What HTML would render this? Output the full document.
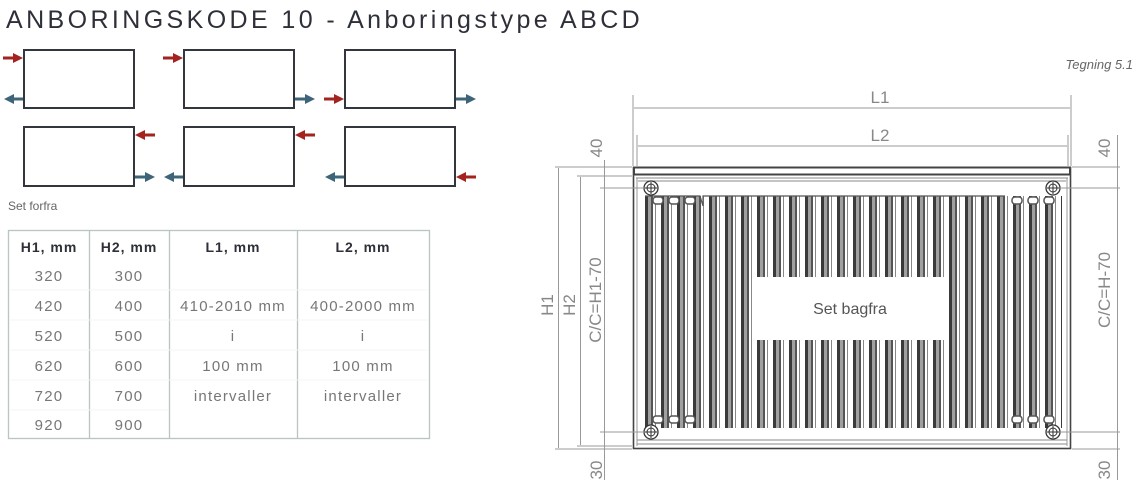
<!DOCTYPE html>
<html><head><meta charset="utf-8"><style>
body{margin:0;background:#fff;width:1137px;height:492px;overflow:hidden;font-family:"Liberation Sans",sans-serif}
</style></head><body>
<svg width="1137" height="492" viewBox="0 0 1137 492" xmlns="http://www.w3.org/2000/svg" font-family="Liberation Sans, sans-serif">
<defs>
<pattern id="fins" x="645" y="0" width="16" height="10" patternUnits="userSpaceOnUse">
<rect x="0" y="0" width="16" height="10" fill="#fff"/>
<rect x="0" y="0" width="3" height="10" fill="#3a3a3a"/>
<rect x="3" y="0" width="3" height="10" fill="#a0a0a0"/>
<rect x="6" y="0" width="2" height="10" fill="#555"/>
<rect x="10" y="0" width="1" height="10" fill="#888"/>
</pattern>
</defs>
<text x="6" y="28" font-size="25" fill="#2d3038" letter-spacing="3.4">ANBORINGSKODE 10 - Anboringstype ABCD</text>
<text x="1133" y="69" font-size="13" font-style="italic" fill="#666" text-anchor="end">Tegning 5.1</text>
<!-- boxes -->
<g fill="none" stroke="#33363d" stroke-width="2">
<rect x="24" y="50" width="110" height="58"/><rect x="184" y="50" width="110" height="58"/><rect x="345" y="50" width="110" height="58"/>
<rect x="24" y="127" width="110" height="59"/><rect x="184" y="127" width="110" height="59"/><rect x="345" y="127" width="110" height="59"/>
</g>
<g stroke-width="3">
<line x1="3" y1="58" x2="14" y2="58" stroke="#a3231f"/><path d="M13,53 L23,58 L13,63z" fill="#a3231f"/>
<line x1="163" y1="58" x2="174" y2="58" stroke="#a3231f"/><path d="M173,53 L183,58 L173,63z" fill="#a3231f"/>
<line x1="324" y1="99" x2="335" y2="99" stroke="#a3231f"/><path d="M334,94 L344,99 L334,104z" fill="#a3231f"/>
<line x1="155" y1="135" x2="145" y2="135" stroke="#a3231f"/><path d="M145,130 L135,135 L145,140z" fill="#a3231f"/>
<line x1="315" y1="135" x2="305" y2="135" stroke="#a3231f"/><path d="M305,130 L295,135 L305,140z" fill="#a3231f"/>
<line x1="476" y1="177" x2="466" y2="177" stroke="#a3231f"/><path d="M466,172 L456,177 L466,182z" fill="#a3231f"/>
<line x1="23" y1="99" x2="13" y2="99" stroke="#3d6479"/><path d="M14,94 L4,99 L14,104z" fill="#3d6479"/>
<line x1="295" y1="99" x2="305" y2="99" stroke="#3d6479"/><path d="M305,94 L315,99 L305,104z" fill="#3d6479"/>
<line x1="456" y1="99" x2="466" y2="99" stroke="#3d6479"/><path d="M466,94 L476,99 L466,104z" fill="#3d6479"/>
<line x1="135" y1="177" x2="145" y2="177" stroke="#3d6479"/><path d="M145,172 L155,177 L145,182z" fill="#3d6479"/>
<line x1="183" y1="177" x2="173" y2="177" stroke="#3d6479"/><path d="M174,172 L164,177 L174,182z" fill="#3d6479"/>
<line x1="344" y1="177" x2="334" y2="177" stroke="#3d6479"/><path d="M335,172 L325,177 L335,182z" fill="#3d6479"/>
</g>
<text x="8" y="210" font-size="12" fill="#666">Set forfra</text>
<!-- table -->
<g stroke="#b9c4c6" stroke-width="1.3" fill="none">
<rect x="8.5" y="230.5" width="421" height="208"/>
<line x1="89.5" y1="230" x2="89.5" y2="438"/><line x1="169.5" y1="230" x2="169.5" y2="438"/><line x1="297.5" y1="230" x2="297.5" y2="438"/>
</g>
<g stroke="#f4f5f5" stroke-width="1">
<line x1="9" y1="290" x2="429" y2="290"/><line x1="9" y1="320" x2="429" y2="320"/><line x1="9" y1="350" x2="429" y2="350"/><line x1="9" y1="380" x2="429" y2="380"/><line x1="9" y1="410" x2="169" y2="410"/>
</g>
<g font-size="14" font-weight="bold" fill="#2d3038" text-anchor="middle" letter-spacing="1">
<text x="49" y="252">H1, mm</text><text x="129" y="252">H2, mm</text><text x="233" y="252">L1, mm</text><text x="363" y="252">L2, mm</text>
</g>
<g font-size="15" fill="#777" text-anchor="middle" letter-spacing="1.2">
<text x="49" y="281">320</text><text x="129" y="281">300</text>
<text x="49" y="311">420</text><text x="129" y="311">400</text>
<text x="49" y="341">520</text><text x="129" y="341">500</text>
<text x="49" y="371">620</text><text x="129" y="371">600</text>
<text x="49" y="401">720</text><text x="129" y="401">700</text>
<text x="49" y="430">920</text><text x="129" y="430">900</text>
<text x="233" y="311">410-2010 mm</text><text x="363" y="311">400-2000 mm</text>
<text x="233" y="341">i</text><text x="363" y="341">i</text>
<text x="233" y="371">100 mm</text><text x="363" y="371">100 mm</text>
<text x="233" y="401">intervaller</text><text x="363" y="401">intervaller</text>
</g>
<!-- radiator -->
<rect x="645" y="196" width="417" height="232" fill="url(#fins)"/>
<rect x="645" y="190" width="417" height="6" fill="#fff"/>
<rect x="645" y="428" width="417" height="15" fill="#fff"/>
<g fill="#fff" stroke="#555" stroke-width="1.5">
<rect x="653" y="197" width="10" height="7" rx="3"/><rect x="669" y="197" width="10" height="7" rx="3"/><rect x="685" y="197" width="10" height="7" rx="3"/>
<rect x="1012" y="197" width="10" height="7" rx="3"/><rect x="1028" y="197" width="10" height="7" rx="3"/><rect x="1044" y="197" width="10" height="7" rx="3"/>
<rect x="653" y="416" width="10" height="7" rx="3"/><rect x="669" y="416" width="10" height="7" rx="3"/><rect x="685" y="416" width="10" height="7" rx="3"/>
<rect x="1012" y="416" width="10" height="7" rx="3"/><rect x="1028" y="416" width="10" height="7" rx="3"/><rect x="1044" y="416" width="10" height="7" rx="3"/>
</g>
<path d="M645,196 L700,196 L703,206 L703,196 L1005,196" fill="none" stroke="#555" stroke-width="1.2"/>
<rect x="752" y="277" width="196" height="63" fill="#fff"/>
<text x="850" y="314" font-size="16" fill="#555" text-anchor="middle">Set bagfra</text>
<g fill="none" stroke="#444">
<rect x="633.5" y="167.5" width="437" height="281" stroke-width="1.6"/>
<rect x="634" y="167.5" width="436" height="7" stroke-width="2"/>
<line x1="636" y1="178" x2="1068" y2="178" stroke="#888"/>
<line x1="638" y1="181" x2="1066" y2="181" stroke="#888"/>
<line x1="637" y1="440" x2="1067" y2="440" stroke="#888"/>
<line x1="637" y1="444" x2="1067" y2="444" stroke="#888"/>
<line x1="637" y1="178" x2="637" y2="446" stroke="#999"/>
<line x1="1067" y1="178" x2="1067" y2="446" stroke="#999"/>
</g>
<g fill="#fff" stroke="#333" stroke-width="1.3">
<circle cx="651" cy="188" r="7"/><circle cx="1053" cy="188" r="7"/><circle cx="651" cy="432" r="7"/><circle cx="1053" cy="432" r="7"/>
</g>
<g stroke="#333" stroke-width="1"><circle cx="651" cy="188" r="4" fill="none"/><circle cx="1053" cy="188" r="4" fill="none"/><circle cx="651" cy="432" r="4" fill="none"/><circle cx="1053" cy="432" r="4" fill="none"/>
<path d="M645,188h12M651,182v12M1047,188h12M1053,182v12M645,432h12M651,426v12M1047,432h12M1053,426v12"/></g>
<!-- dimensions -->
<g stroke="#999" stroke-width="1" fill="none">
<line x1="633" y1="95" x2="633" y2="166"/><line x1="1071" y1="95" x2="1071" y2="166"/>
<line x1="634" y1="108" x2="1070" y2="108"/>
<line x1="637" y1="135" x2="637" y2="166"/><line x1="1068" y1="135" x2="1068" y2="166"/>
<line x1="638" y1="146" x2="1067" y2="146"/>
<line x1="555" y1="167" x2="632" y2="167"/><line x1="555" y1="449" x2="632" y2="449"/>
<line x1="577" y1="176" x2="632" y2="176"/><line x1="577" y1="446" x2="632" y2="446"/>
<line x1="600" y1="188" x2="644" y2="188"/><line x1="600" y1="432" x2="644" y2="432"/>
<line x1="558.5" y1="168" x2="558.5" y2="448"/><line x1="580.5" y1="177" x2="580.5" y2="445"/>
<line x1="604.5" y1="160" x2="604.5" y2="196"/><line x1="604.5" y1="188" x2="604.5" y2="432"/><line x1="604.5" y1="425" x2="604.5" y2="480"/>
<line x1="1072" y1="167" x2="1120" y2="167"/><line x1="1072" y1="449" x2="1120" y2="449"/>
<line x1="1060" y1="188" x2="1120" y2="188"/><line x1="1060" y1="432" x2="1120" y2="432"/>
<line x1="1117.5" y1="135" x2="1117.5" y2="196"/><line x1="1117.5" y1="188" x2="1117.5" y2="432"/><line x1="1117.5" y1="425" x2="1117.5" y2="480"/>
</g>
<g font-size="17" fill="#888" text-anchor="middle">
<text x="880" y="103">L1</text><text x="880" y="141">L2</text>
<text transform="translate(602,148) rotate(-90)">40</text>
<text transform="translate(1110,148) rotate(-90)">40</text>
<text transform="translate(602,470) rotate(-90)">30</text>
<text transform="translate(1110,470) rotate(-90)">30</text>
<text transform="translate(553,305) rotate(-90)">H1</text>
<text transform="translate(575,305) rotate(-90)">H2</text>
<text transform="translate(601,300) rotate(-90)">C/C=H1-70</text>
<text transform="translate(1110,290) rotate(-90)">C/C=H-70</text>
</g>
</svg>
</body></html>
